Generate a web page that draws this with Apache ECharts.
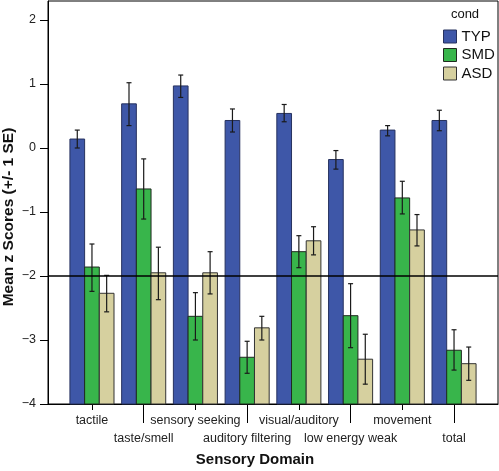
<!DOCTYPE html>
<html>
<head>
<meta charset="utf-8">
<script src="https://cdn.jsdelivr.net/npm/echarts@6/dist/echarts.min.js"></script>
<style>
html,body{margin:0;padding:0;background:#fff;}
#chart{width:499px;height:471px;}
</style>
</head>
<body>
<div id="chart"></div>
<script>
// ---- data ----
const categories = ['tactile','taste/smell','sensory seeking','auditory filtering','visual/auditory','low energy weak','movement','total'];
const groupNames = ['TYP','SMD','ASD'];
const typMean = [0.14, 0.69, 0.97, 0.43, 0.54, -0.18, 0.28, 0.43];
const typLo   = [0.00, 0.35, 0.79, 0.25, 0.41, -0.33, 0.19, 0.27];
const typHi   = [0.28, 1.02, 1.14, 0.61, 0.68, -0.04, 0.35, 0.59];
const smdMean = [-1.86, -0.64, -2.63, -3.27, -1.62, -2.62, -0.78, -3.16];
const smdLo   = [-2.24, -1.11, -3.00, -3.52, -1.87, -3.12, -1.03, -3.47];
const smdHi   = [-1.50, -0.17, -2.26, -3.02, -1.37, -2.12, -0.52, -2.84];
const asdMean = [-2.27, -1.95, -1.95, -2.81, -1.45, -3.30, -1.28, -3.37];
const asdLo   = [-2.56, -2.37, -2.28, -3.00, -1.67, -3.69, -1.53, -3.63];
const asdHi   = [-1.99, -1.55, -1.62, -2.63, -1.23, -2.91, -1.04, -3.11];
const yTicks = [-4, -3, -2, -1, 0, 1, 2];
const refLine = -2;
const yFloor = -4;        // bars grow up from the bottom of the axis
const yTop = 2.297;

// ---- styling ----
const FONT = 'Liberation Sans, Arial, Helvetica, sans-serif';
const colors = ['#3e57a8', '#38b54b', '#d6d09f'];
const borders = ['#27325f', '#1f2a1f', '#333333'];
const BAR_W = 0.284;

const groups = [[typMean, typLo, typHi],[smdMean, smdLo, smdHi],[asdMean, asdLo, asdHi]];

function makeRender(k) {
  return function (params, api) {
    const x = api.value(0), m = api.value(1), lo = api.value(2), hi = api.value(3);
    const cx = x + (k - 1) * BAR_W;
    const a = api.coord([cx - BAR_W / 2, m]);
    const b = api.coord([cx + BAR_W / 2, 0]);
    const c = api.coord([cx, lo]);
    const d = api.coord([cx, hi]);
    const cap = 2.5;
    const ls = { stroke: '#1a1a1a', lineWidth: 1.2 };
    return {
      type: 'group',
      children: [
        { type: 'rect', shape: { x: a[0], y: a[1], width: b[0] - a[0], height: b[1] - a[1] },
          style: { fill: colors[k], stroke: borders[k], lineWidth: 1 } },
        { type: 'line', shape: { x1: c[0], y1: c[1], x2: d[0], y2: d[1] }, style: ls },
        { type: 'line', shape: { x1: c[0] - cap, y1: c[1], x2: c[0] + cap, y2: c[1] }, style: ls },
        { type: 'line', shape: { x1: d[0] - cap, y1: d[1], x2: d[0] + cap, y2: d[1] }, style: ls }
      ]
    };
  };
}

const series = groups.map(function (g, k) {
  return {
    name: groupNames[k],
    type: 'custom',
    renderItem: makeRender(k),
    itemStyle: { color: colors[k], borderColor: borders[k], borderWidth: 1 },
    encode: { x: 0, y: [1, 2, 3] },
    data: categories.map(function (_, i) {
      return [i + 1, g[0][i] - yFloor, g[1][i] - yFloor, g[2][i] - yFloor];
    }),
    z: 2
  };
});
series.push({
  type: 'line', data: [], z: 10, silent: true,
  markLine: { symbol: 'none', silent: true, label: { show: false },
    lineStyle: { color: '#000', width: 1.5, type: 'solid' },
    data: [{ yAxis: refLine - yFloor }] }
});

const fmtY = function (v) {
  const t = Math.round(v + yFloor);
  return t < 0 ? '\u2212' + Math.abs(t) : String(t);
};
const labelStyle = { fontFamily: FONT, fontSize: 12.5, color: '#222' };

const option = {
  animation: false,
  grid: { left: 48, right: 1, top: 1, bottom: 67, show: true, borderColor: '#000', borderWidth: 1, backgroundColor: '#fff' },
  xAxis: [
    { type: 'value', min: 0.15, max: 8.85, position: 'bottom',
      axisLine: { show: true, lineStyle: { color: '#000', width: 1 } },
      splitLine: { show: false },
      axisTick: { show: true, length: 6, customValues: [1, 3, 5, 7], lineStyle: { color: '#000' } },
      axisLabel: Object.assign({ customValues: [1, 3, 5, 7], margin: 10,
        formatter: function (v) { return categories[Math.round(v) - 1] || ''; } }, labelStyle) },
    { type: 'value', min: 0.15, max: 8.85, position: 'bottom',
      axisLine: { show: false },
      splitLine: { show: false },
      axisTick: { show: true, length: 19, customValues: [2, 4, 6, 8], lineStyle: { color: '#000' } },
      axisLabel: Object.assign({ customValues: [2, 4, 6, 8], margin: 28,
        formatter: function (v) { return categories[Math.round(v) - 1] || ''; } }, labelStyle) }
  ],
  yAxis: {
    type: 'value', min: 0, max: yTop - yFloor, interval: 1,
    axisLine: { show: true, lineStyle: { color: '#000', width: 1 } },
    splitLine: { show: false },
    axisTick: { show: true, length: 8, customValues: yTicks.map(function (t) { return t - yFloor; }), lineStyle: { color: '#000' } },
    axisLabel: Object.assign({ customValues: yTicks.map(function (t) { return t - yFloor; }), margin: 12, formatter: fmtY }, labelStyle)
  },
  legend: {
    orient: 'vertical', left: 443, top: 29, padding: 0,
    itemWidth: 13, itemHeight: 13, itemGap: 3.5, icon: 'rect',
    itemStyle: { borderWidth: 1 },
    textStyle: { fontFamily: FONT, fontSize: 15, color: '#111', lineHeight: 13 },
    data: groupNames
  },
  graphic: [
    { type: 'text', x: 465, y: 14, style: { text: 'cond', font: '13px ' + FONT, fill: '#111', textAlign: 'center', textVerticalAlign: 'middle' } },
    { type: 'text', x: 255, y: 460, style: { text: 'Sensory Domain', font: 'bold 15px ' + FONT, fill: '#111', textAlign: 'center', textVerticalAlign: 'middle' } },
    { type: 'text', x: 9, y: 217, rotation: Math.PI / 2, style: { text: 'Mean z Scores (+/- 1 SE)', font: 'bold 15.5px ' + FONT, fill: '#111', textAlign: 'center', textVerticalAlign: 'middle' } }
  ],
  series: series
};

const chart = echarts.init(document.getElementById('chart'), null, { renderer: 'canvas' });
chart.setOption(option);
</script>
</body>
</html>
